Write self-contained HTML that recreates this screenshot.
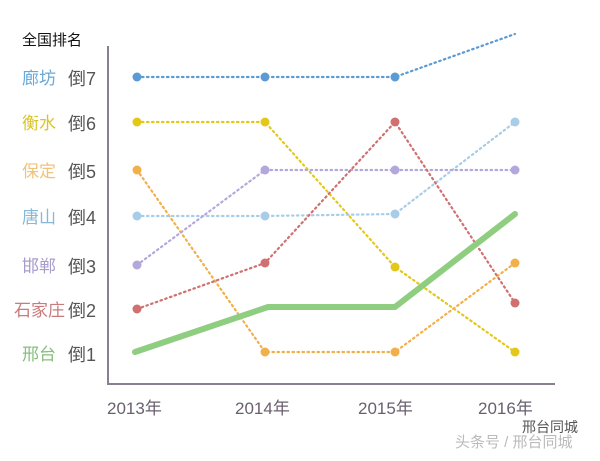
<!DOCTYPE html>
<html><head><meta charset="utf-8"><style>
body{margin:0;background:#fff;}
svg text{font-family:"Liberation Sans","Noto Sans CJK SC",sans-serif;}
</style></head><body>
<svg width="600" height="456" viewBox="0 0 600 456" xmlns="http://www.w3.org/2000/svg">
<rect width="600" height="456" fill="#fff"/>
<line x1="108" y1="46" x2="108" y2="384" stroke="#8a7f90" stroke-width="2"/>
<line x1="107" y1="384" x2="555" y2="384" stroke="#8a7f90" stroke-width="2"/>
<text x="22" y="45" font-size="15" fill="#111">全国排名</text>
<g font-size="17">
<text x="22" y="84" fill="#6aa8d8">廊坊</text>
<text x="22" y="129" fill="#d9c52a">衡水</text>
<text x="22" y="177" fill="#f0c27a">保定</text>
<text x="22" y="223" fill="#86b8d8">唐山</text>
<text x="22" y="272" fill="#a99ccc">邯郸</text>
<text x="14" y="316" fill="#c97a7a">石家庄</text>
<text x="22" y="360" fill="#86c07a">邢台</text>
</g>
<g font-size="18" fill="#555">
<text x="68" y="85">倒7</text><text x="68" y="130">倒6</text><text x="68" y="178">倒5</text>
<text x="68" y="224">倒4</text><text x="68" y="273">倒3</text><text x="68" y="317">倒2</text><text x="68" y="361">倒1</text>
</g>
<g font-size="17" fill="#6a5f70">
<text x="107" y="414">2013年</text><text x="235" y="414">2014年</text>
<text x="358" y="414">2015年</text><text x="478" y="414">2016年</text>
</g>
<g fill="none" stroke-width="2.2" stroke-dasharray="1.5 3.5" stroke-linecap="round">
<polyline stroke="#5b9bd5" points="137,77 265,77 395,77 515,34"/>
<polyline stroke="#e3c81a" points="137,122 265,122 395,267 515,352"/>
<polyline stroke="#f2b04a" points="137,170 265,352 395,352 515,263"/>
<polyline stroke="#a7cde8" points="137,216 265,216 395,214 515,122"/>
<polyline stroke="#b4a7dc" points="137,265 265,170 395,170 515,170"/>
<polyline stroke="#d07070" points="137,309 265,263 395,122 515,303"/>
</g>
<polyline fill="none" stroke="#8fce80" stroke-width="6" stroke-linejoin="round" stroke-linecap="round" points="135,352 268,307 395,307 515,214"/>
<g>
<g fill="#5b9bd5"><circle cx="137" cy="77" r="4.5"/><circle cx="265" cy="77" r="4.5"/><circle cx="395" cy="77" r="4.5"/></g>
<g fill="#e3c81a"><circle cx="137" cy="122" r="4.5"/><circle cx="265" cy="122" r="4.5"/><circle cx="395" cy="267" r="4.5"/><circle cx="515" cy="352" r="4.5"/></g>
<g fill="#f2b04a"><circle cx="137" cy="170" r="4.5"/><circle cx="265" cy="352" r="4.5"/><circle cx="395" cy="352" r="4.5"/><circle cx="515" cy="263" r="4.5"/></g>
<g fill="#a7cde8"><circle cx="137" cy="216" r="4.5"/><circle cx="265" cy="216" r="4.5"/><circle cx="395" cy="214" r="4.5"/><circle cx="515" cy="122" r="4.5"/></g>
<g fill="#b4a7dc"><circle cx="137" cy="265" r="4.5"/><circle cx="265" cy="170" r="4.5"/><circle cx="395" cy="170" r="4.5"/><circle cx="515" cy="170" r="4.5"/></g>
<g fill="#d07070"><circle cx="137" cy="309" r="4.5"/><circle cx="265" cy="263" r="4.5"/><circle cx="395" cy="122" r="4.5"/><circle cx="515" cy="303" r="4.5"/></g>
</g>
<text x="522" y="432" font-size="14" fill="#555">邢台同城</text>
<text x="455" y="447" font-size="15" fill="#bbb">头条号 / 邢台同城</text>
</svg>
</body></html>
